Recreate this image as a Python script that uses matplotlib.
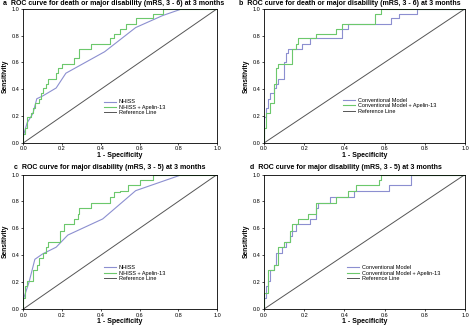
import matplotlib
matplotlib.use("Agg")
import matplotlib.pyplot as plt

# ROC coordinates (1 - specificity, sensitivity) for each panel
a_nihss_fpr = [0, 0, 0.02, 0.05, 0.07, 0.10, 0.17, 0.22, 0.42, 0.58, 0.72, 0.82, 1.0]
a_nihss_tpr = [0, 0.05, 0.15, 0.22, 0.33, 0.35, 0.41, 0.52, 0.68, 0.86, 0.95, 1.0, 1.0]
a_apelin_fpr = [0, 0, 0.01, 0.02, 0.04, 0.05, 0.06, 0.08, 0.09, 0.10, 0.12, 0.13, 0.17,
                0.18, 0.20, 0.26, 0.29, 0.35, 0.45, 0.47, 0.50, 0.53, 0.58, 0.67, 0.72, 1.0]
a_apelin_tpr = [0, 0.07, 0.11, 0.19, 0.22, 0.26, 0.30, 0.33, 0.37, 0.41, 0.44, 0.48, 0.52,
                0.56, 0.59, 0.63, 0.70, 0.74, 0.78, 0.81, 0.85, 0.89, 0.93, 0.96, 1.0, 1.0]

b_conv_fpr = [0, 0, 0.01, 0.02, 0.03, 0.05, 0.06, 0.07, 0.10, 0.10, 0.11, 0.12, 0.19,
              0.23, 0.39, 0.39, 0.42, 0.63, 0.67, 0.76, 1.0]
b_conv_tpr = [0, 0.19, 0.26, 0.33, 0.37, 0.41, 0.44, 0.48, 0.52, 0.60, 0.67, 0.70, 0.74,
              0.78, 0.78, 0.85, 0.89, 0.93, 0.96, 1.0, 1.0]
b_apelin_fpr = [0, 0, 0.01, 0.03, 0.05, 0.06, 0.07, 0.14, 0.16, 0.17, 0.26, 0.36, 0.39,
                0.55, 0.58, 1.0]
b_apelin_tpr = [0, 0.11, 0.22, 0.30, 0.44, 0.56, 0.59, 0.70, 0.74, 0.78, 0.81, 0.85, 0.89,
                0.96, 1.0, 1.0]

c_nihss_fpr = [0, 0, 0.03, 0.06, 0.10, 0.17, 0.23, 0.41, 0.58, 0.82, 1.0]
c_nihss_tpr = [0, 0.07, 0.20, 0.37, 0.41, 0.46, 0.55, 0.67, 0.88, 1.0, 1.0]
c_apelin_fpr = [0, 0, 0.01, 0.02, 0.05, 0.07, 0.08, 0.10, 0.12, 0.13, 0.19, 0.21, 0.26,
                0.28, 0.29, 0.35, 0.45, 0.47, 0.50, 0.54, 0.60, 0.67, 1.0]
c_apelin_tpr = [0, 0.08, 0.17, 0.21, 0.29, 0.33, 0.38, 0.42, 0.46, 0.50, 0.58, 0.63, 0.67,
                0.71, 0.75, 0.79, 0.83, 0.87, 0.88, 0.92, 0.96, 1.0, 1.0]

d_conv_fpr = [0, 0, 0.01, 0.02, 0.03, 0.05, 0.06, 0.09, 0.11, 0.13, 0.14, 0.16, 0.23,
              0.26, 0.27, 0.33, 0.45, 0.62, 0.73, 1.0]
d_conv_tpr = [0, 0.08, 0.17, 0.21, 0.29, 0.33, 0.42, 0.46, 0.50, 0.54, 0.58, 0.63, 0.67,
              0.75, 0.79, 0.83, 0.88, 0.92, 1.0, 1.0]
d_apelin_fpr = [0, 0, 0.02, 0.05, 0.07, 0.10, 0.13, 0.14, 0.17, 0.22, 0.26, 0.36, 0.42,
                0.46, 0.57, 0.58, 1.0]
d_apelin_tpr = [0, 0.12, 0.29, 0.33, 0.46, 0.50, 0.58, 0.63, 0.67, 0.71, 0.79, 0.83, 0.88,
                0.92, 0.96, 1.0, 1.0]

titles = [
    "a  ROC curve for death or major disability (mRS, 3 - 6) at 3 months",
    "b  ROC curve for death or major disability (mRS, 3 - 6) at 3 months",
    "c  ROC curve for major disability (mRS, 3 - 5) at 3 months",
    "d  ROC curve for major disability (mRS, 3 - 5) at 3 months",
]
labels_nihss = ["NHISS", "NHISS + Apelin-13", "Reference Line"]
labels_conv = ["Conventional Model", "Conventional Model + Apelin-13", "Reference Line"]
ticks = [0.0, 0.2, 0.4, 0.6, 0.8, 1.0]

BLUE = "#8c8fd0"
GREEN = "#6cc86c"
REF = "#555555"
FONT = ["Liberation Sans Narrow", "Liberation Sans", "DejaVu Sans"]

fig = plt.figure(figsize=(4.74, 3.25), dpi=100)

# rect, curves, legend labels, title position (figure fraction), legend anchor, stepped baseline
panels = [
    ([0.049, 0.56, 0.409, 0.413], a_nihss_fpr, a_nihss_tpr, a_apelin_fpr, a_apelin_tpr,
     labels_nihss, (0.006, 0.986), (0.40, 0.345), False),
    ([0.557, 0.56, 0.424, 0.413], b_conv_fpr, b_conv_tpr, b_apelin_fpr, b_apelin_tpr,
     labels_conv, (0.504, 0.986), (0.38, 0.355), True),
    ([0.049, 0.049, 0.409, 0.414], c_nihss_fpr, c_nihss_tpr, c_apelin_fpr, c_apelin_tpr,
     labels_nihss, (0.03, 0.479), (0.40, 0.345), False),
    ([0.557, 0.049, 0.424, 0.414], d_conv_fpr, d_conv_tpr, d_apelin_fpr, d_apelin_tpr,
     labels_conv, (0.527, 0.479), (0.40, 0.345), True),
]

for title, (rect, x1, y1, x2, y2, labels, tpos, lpos, stepped) in zip(titles, panels):
    ax = fig.add_axes(rect)
    ax.plot(x1, y1, color=BLUE, lw=0.8, drawstyle="steps-post" if stepped else "default",
            label=labels[0])
    ax.plot(x2, y2, color=GREEN, lw=0.8, drawstyle="steps-post", label=labels[1])
    ax.plot([0, 1], [0, 1], color=REF, lw=0.7, label=labels[2])
    ax.set_xlim(0, 1)
    ax.set_ylim(0, 1)
    ax.set_xticks(ticks)
    ax.set_yticks(ticks)
    ax.set_xticklabels([f"{t:.1f}" for t in ticks], fontsize=4, family=FONT)
    ax.set_yticklabels([f"{t:.1f}" for t in ticks], fontsize=4, family=FONT)
    ax.tick_params(length=1.5, width=0.5, pad=1)
    for s in ax.spines.values():
        s.set_linewidth(0.6)
    ax.set_xlabel("1 - Specificity", fontsize=5, fontweight="bold", family=FONT, labelpad=0.5)
    ax.set_ylabel("Sensitivity", fontsize=4.8, fontweight="bold", family=FONT, labelpad=2)
    ax.legend(loc="upper left", bbox_to_anchor=lpos, frameon=False,
              prop={"family": FONT, "size": 4}, handlelength=2.2, handletextpad=0.5,
              labelspacing=0.05, borderpad=0)
    fig.text(tpos[0], tpos[1], title, fontsize=5, fontweight="bold", family=FONT,
             ha="left", va="baseline")

fig.savefig("out.png", dpi=100)
